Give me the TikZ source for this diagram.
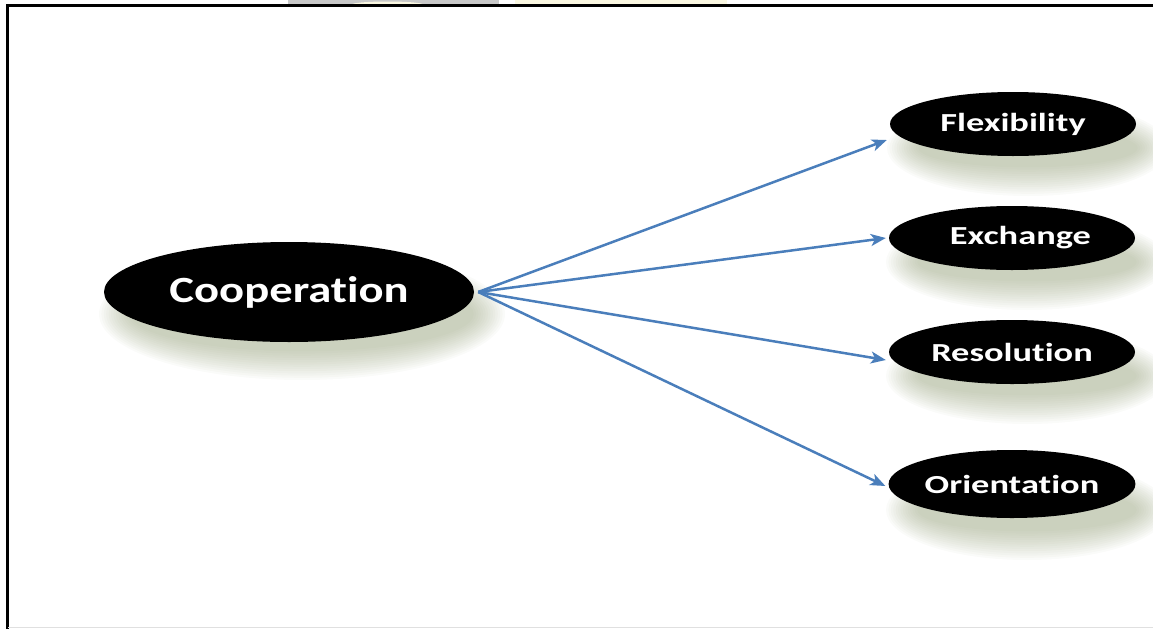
\documentclass[tikz,border=0pt]{standalone}
\usepackage{fontspec}
\setmainfont{Carlito}[Ligatures=NoCommon]
\usetikzlibrary{arrows.meta,shapes.geometric}
\definecolor{arrowblue}{RGB}{74,126,187}
\definecolor{shadowcol}{RGB}{135,148,105}
\definecolor{stripgray}{RGB}{200,200,200}
\definecolor{stripcream}{RGB}{250,247,225}
\newcommand\softshadow[4]{%
  \foreach \k in {0,...,13}{%
    \fill[shadowcol, opacity=0.04] (#1,#2) ellipse[x radius={#3+18-2.4*\k}, y radius={#4+16-2.2*\k}];
  }%
}
\begin{document}
\begin{tikzpicture}[x=1pt,y=-1pt,
  bigoval/.style={ellipse, fill=black, inner sep=0pt, minimum width=370pt, minimum height=100pt,
     text=white, font=\fontsize{37}{40}\selectfont\bfseries},
  smalloval/.style={ellipse, fill=black, inner sep=0pt, minimum width=246pt, minimum height=64pt,
     text=white, font=\fontsize{26}{30}\selectfont\bfseries},
  arr/.style={draw=arrowblue, line width=2.5pt, -{Stealth[length=15pt,width=12pt,inset=4pt]}},
  frame/.style={line width=2.5pt, draw=black}]
\useasboundingbox (0,0) rectangle (1153,629);
% top strip remnants
\fill[stripgray] (288,0) rectangle (499,4.5);
\fill[stripcream] (352,4.5) arc[start angle=180,end angle=0,x radius=35.5pt,y radius=3pt] -- cycle;
\fill[stripcream] (515,0) rectangle (727,4.5);
% frame
\draw[frame] (7.5,629) -- (7.5,5.5) -- (1153,5.5);
\draw[black!12, line width=1.5pt] (8,627.5) -- (1153,627.5);
% shadows
\softshadow{302}{314}{185}{50}
\softshadow{1028}{148}{123}{32}
\softshadow{1027}{262}{123}{32}
\softshadow{1027}{376}{123}{32}
\softshadow{1027}{510}{123}{34}
% nodes
\node[bigoval] (Cooperation) at (289,292) {\scalebox{1.26}[1]{Cooperation}};
\node[smalloval] (Flexibility) at (1013,124) {\scalebox{1.4}[1]{Flexibility}\hspace{12pt}};
\node[smalloval] (Exchange) at (1012,238) {\scalebox{1.4}[1]{\hspace{12pt}Exchange}};
\node[smalloval] (Resolution) at (1012,352) {\scalebox{1.4}[1]{Resolution}\hspace{6pt}};
\node[smalloval, minimum height=68pt] (Orientation) at (1012,484) {\scalebox{1.4}[1]{Orientation}};
% connectors
\draw[arr] ([xshift=4pt]Cooperation.east) -- ([shift={(-3,16)}]Flexibility.west);
\draw[arr] ([xshift=4pt]Cooperation.east) -- ([shift={(-3,0)}]Exchange.west);
\draw[arr] ([xshift=4pt]Cooperation.east) -- ([shift={(-3,8)}]Resolution.west);
\draw[arr] ([xshift=4pt]Cooperation.east) -- ([shift={(-3,2)}]Orientation.west);
\end{tikzpicture}
\end{document}
